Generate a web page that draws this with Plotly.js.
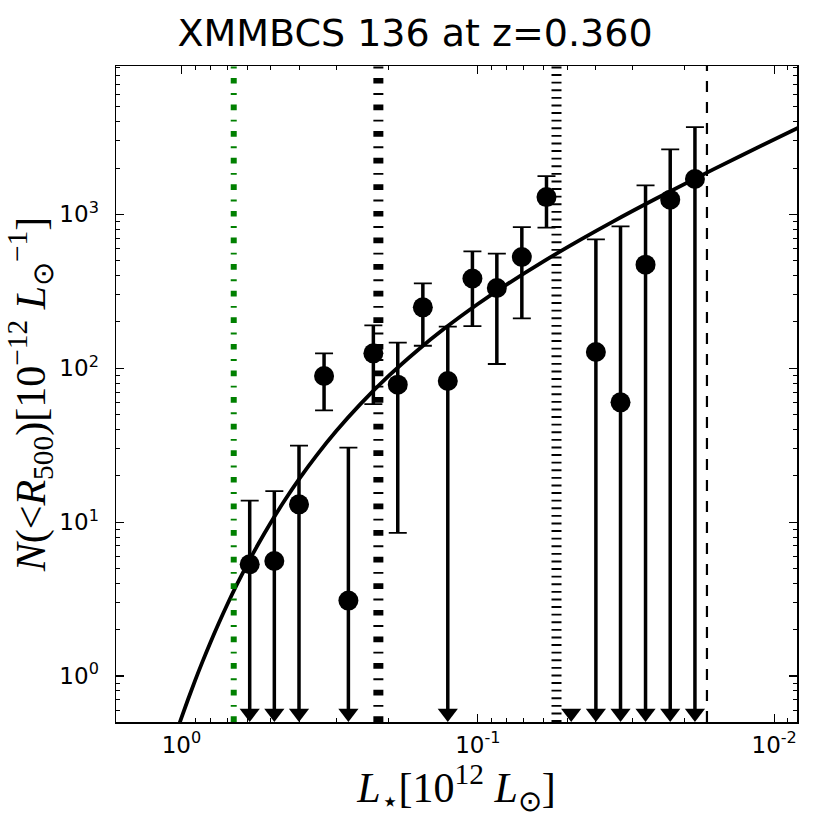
<!DOCTYPE html>
<html><head><meta charset="utf-8">
<script src="https://cdn.plot.ly/plotly-3.0.1.min.js"></script>
<style>html,body{margin:0;padding:0;background:#fff}#chart{width:830px;height:830px}</style>
</head><body><div id="chart"></div>
<script>
// Stellar luminosity bins [10^12 Lsun]
const luminosity = [0.5886, 0.4861, 0.4013, 0.3303, 0.2734, 0.2252, 0.1863, 0.1533, 0.1263, 0.1043,
                    0.08627, 0.07104, 0.05866, 0.04842, 0.03996, 0.03300, 0.02717, 0.02243, 0.01851];
// N(<R500) [10^-12 Lsun^-1]
const nValue = [5.32, 5.59, 13.05, 89.0, 3.09, 125, 78.2, 248.7, 82.6, 382.6,
                331.9, 527.9, 1295, null, 127.4, 60.0, 471, 1246, 1696];
const nUpper = [13.8, 15.9, 31.4, 125, 30.5, 190, 146.7, 356, 186.3, 575,
                555.5, 827, 1774, null, 688, 835.7, 1543, 2645, 3692];
const nLower = [null, null, null, 53.3, null, 58.5, 8.5, 140, null, 188,
                106.5, 211, 820, null, null, null, null, null, null];
// lower error reaching zero (drawn as a downward arrow at the bottom edge)
const isLimit = [true, true, true, false, true, false, false, false, true, false,
                 false, false, false, true, true, true, true, true, true];
const limitLevel = 0.573;

// Fitted model curve
const modelL = [1.05, 1.0, 0.95, 0.9, 0.85, 0.8, 0.75, 0.7, 0.65, 0.6, 0.55, 0.5, 0.45, 0.4, 0.35,
                0.3, 0.25, 0.2, 0.16, 0.13, 0.1, 0.08, 0.06, 0.045, 0.035, 0.025, 0.018, 0.013, 0.0083];
const modelN = [0.408, 0.536, 0.706, 0.933, 1.235, 1.641, 2.187, 2.928, 3.936, 5.319, 7.235, 9.91, 13.70, 19.15, 27.14,
                39.19, 58.0, 89.05, 130.5, 180.3, 261.3, 349.5, 494.9, 685, 897.4, 1267, 1753, 2396, 3650];

// Vertical reference lines
const refLines = [0.6664, 0.2166, 0.05427, 0.01686];

const xTickVals = [1, 0.1, 0.01];
const xTickText = ['10<sup>0</sup>', '10<sup>-1</sup>', '10<sup>-2</sup>'];
const yTickVals = [1, 10, 100, 1000];
const yTickText = ['10<sup>0</sup>', '10<sup>1</sup>', '10<sup>2</sup>', '10<sup>3</sup>'];

const minorX = [], minorY = [];
for (let k = -3; k <= 0; k++) for (let d = 2; d <= 9; d++) minorX.push(d * Math.pow(10, k));
for (let k = -1; k <= 3; k++) for (let d = 2; d <= 9; d++) minorY.push(d * Math.pow(10, k));

const all = luminosity.map((_, i) => i);
const idxPts = all.filter(i => nValue[i] !== null);
const idxLim = all.filter(i => isLimit[i]);
const px = idxPts.map(i => luminosity[i]);
const py = idxPts.map(i => nValue[i]);
const errPlus = idxPts.map(i => nUpper[i] - nValue[i]);
const stemMinus = idxPts.map(i => nValue[i] - (isLimit[i] ? limitLevel : nLower[i]));
const capMinus = idxPts.map(i => isLimit[i] ? 0 : nValue[i] - nLower[i]);

const traces = [
  { x: modelL, y: modelN, mode: 'lines', line: { color: '#000', width: 3.8, shape: 'spline', smoothing: 1 }, hoverinfo: 'skip' },
  { x: px, y: py, mode: 'markers', marker: { size: 2, color: 'rgba(0,0,0,0)' },
    error_y: { type: 'data', symmetric: false, array: errPlus, arrayminus: capMinus, thickness: 1.8, width: 9, color: '#000' } },
  { x: px, y: py, mode: 'markers', marker: { size: 20, color: '#000' },
    error_y: { type: 'data', symmetric: false, array: errPlus, arrayminus: stemMinus, thickness: 3.5, width: 0, color: '#000' } },
  { x: idxLim.map(i => luminosity[i]), y: idxLim.map(() => limitLevel), mode: 'markers', cliponaxis: false,
    marker: { symbol: 'triangle-down', size: 17.5, color: '#000' } }
];

const lineStyles = [
  { color: '#008000', width: 6, dash: '5.7px,9.5px,1.9px,9.5px' },
  { color: '#000', width: 10, dash: '5.7px,9.5px,1.9px,9.5px' },
  { color: '#000', width: 10, dash: '1.9px,5.7px' },
  { color: '#000', width: 2.2, dash: '11px,10px' }
];
const shapes = refLines.map((v, i) => ({
  type: 'line', xref: 'x', yref: 'paper', x0: v, x1: v, y0: 0, y1: 1, layer: 'above', line: lineStyles[i]
}));

const axisCommon = {
  type: 'log', showgrid: false, zeroline: false, showline: true, linecolor: '#000', linewidth: 1.5,
  mirror: 'allticks', ticks: 'inside', ticklen: 8, tickwidth: 1.2, tickcolor: '#000',
  tickfont: { family: 'DejaVu Sans', size: 23, color: '#000' }, tickmode: 'array'
};

const layout = {
  width: 830, height: 830,
  margin: { l: 116, r: 33, t: 66, b: 108, pad: 0 },
  paper_bgcolor: '#fff', plot_bgcolor: '#fff', showlegend: false,
  title: { text: 'XMMBCS 136 at z=0.360', font: { family: 'DejaVu Sans', size: 38, color: '#000' },
           xref: 'container', x: 0.5, xanchor: 'center', yref: 'container', y: 0.977, yanchor: 'top' },
  xaxis: Object.assign({}, axisCommon, {
    range: [0.221, -2.077], tickvals: xTickVals, ticktext: xTickText, ticklabelstandoff: 2,
    minor: { tickmode: 'array', tickvals: minorX, ticks: 'inside', ticklen: 4, tickwidth: 1, tickcolor: '#000', showgrid: false },
    title: { text: '<i>L</i><sub>⋆</sub>[10<sup>12</sup> <i>L</i><sub>⊙</sub>]',
             font: { family: 'Liberation Serif', size: 42, color: '#000' }, standoff: 10 }
  }),
  yaxis: Object.assign({}, axisCommon, {
    range: [-0.299, 3.964], tickvals: yTickVals, ticktext: yTickText, ticklabelstandoff: 11,
    minor: { tickmode: 'array', tickvals: minorY, ticks: 'inside', ticklen: 4, tickwidth: 1, tickcolor: '#000', showgrid: false },
    title: { text: '<i>N</i>(&lt;<i>R</i><sub>500</sub>)[10<sup>−12</sup> <i>L</i><sub>⊙</sub><sup>−1</sup>]',
             font: { family: 'Liberation Serif', size: 42, color: '#000' }, standoff: 0 }
  }),
  shapes: shapes
};

Plotly.newPlot('chart', traces, layout, { displayModeBar: false, staticPlot: true });
</script></body></html>
